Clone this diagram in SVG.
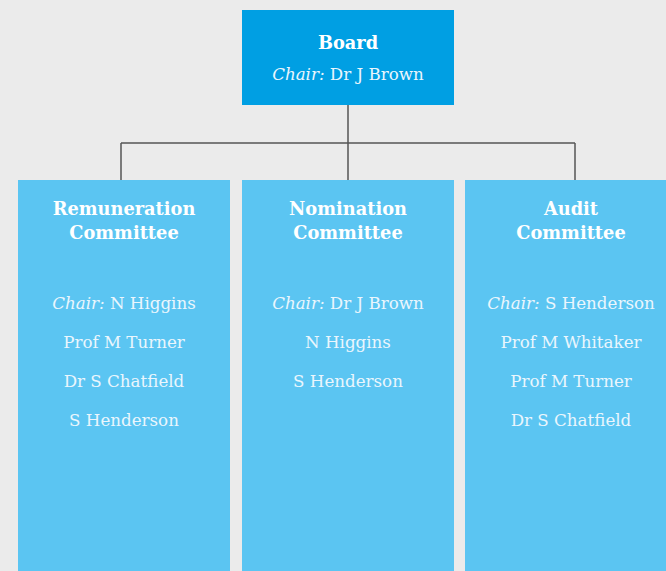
<svg xmlns="http://www.w3.org/2000/svg" width="666" height="571" viewBox="0 0 666 571">
<style>
.t{font-family:"DejaVu Serif","Liberation Serif",serif;text-anchor:middle;fill:#eaf6fd;font-size:16.7px}
.b{font-weight:bold;fill:#ffffff;font-size:17.8px}
.i{font-style:italic}
.c{fill:#5bc5f2}
.conn{stroke:#555555;stroke-width:1.5;fill:none}
</style>
<rect width="666" height="571" fill="#ebebeb"/>
<g id="connectors">
<path class="conn" d="M348 104V180M121 143H575M121 143V180M575 143V180"/>
</g>
<g id="board">
<rect x="242" y="10" width="212" height="95" fill="#009fe3"/>
<text class="t b" x="348" y="49">Board</text>
<text class="t" x="348" y="80"><tspan class="i">Chair:</tspan> Dr J Brown</text>
</g>
<g id="remuneration">
<rect class="c" x="18" y="180" width="212" height="391"/>
<text class="t b" x="124" y="215">Remuneration</text>
<text class="t b" x="124" y="239">Committee</text>
<text class="t" x="124" y="309"><tspan class="i">Chair:</tspan> N Higgins</text>
<text class="t" x="124" y="348">Prof M Turner</text>
<text class="t" x="124" y="387">Dr S Chatfield</text>
<text class="t" x="124" y="426">S Henderson</text>
</g>
<g id="nomination">
<rect class="c" x="242" y="180" width="212" height="391"/>
<text class="t b" x="348" y="215">Nomination</text>
<text class="t b" x="348" y="239">Committee</text>
<text class="t" x="348" y="309"><tspan class="i">Chair:</tspan> Dr J Brown</text>
<text class="t" x="348" y="348">N Higgins</text>
<text class="t" x="348" y="387">S Henderson</text>
</g>
<g id="audit">
<rect class="c" x="465" y="180" width="212" height="391"/>
<text class="t b" x="571" y="215">Audit</text>
<text class="t b" x="571" y="239">Committee</text>
<text class="t" x="571" y="309"><tspan class="i">Chair:</tspan> S Henderson</text>
<text class="t" x="571" y="348">Prof M Whitaker</text>
<text class="t" x="571" y="387">Prof M Turner</text>
<text class="t" x="571" y="426">Dr S Chatfield</text>
</g>
</svg>
